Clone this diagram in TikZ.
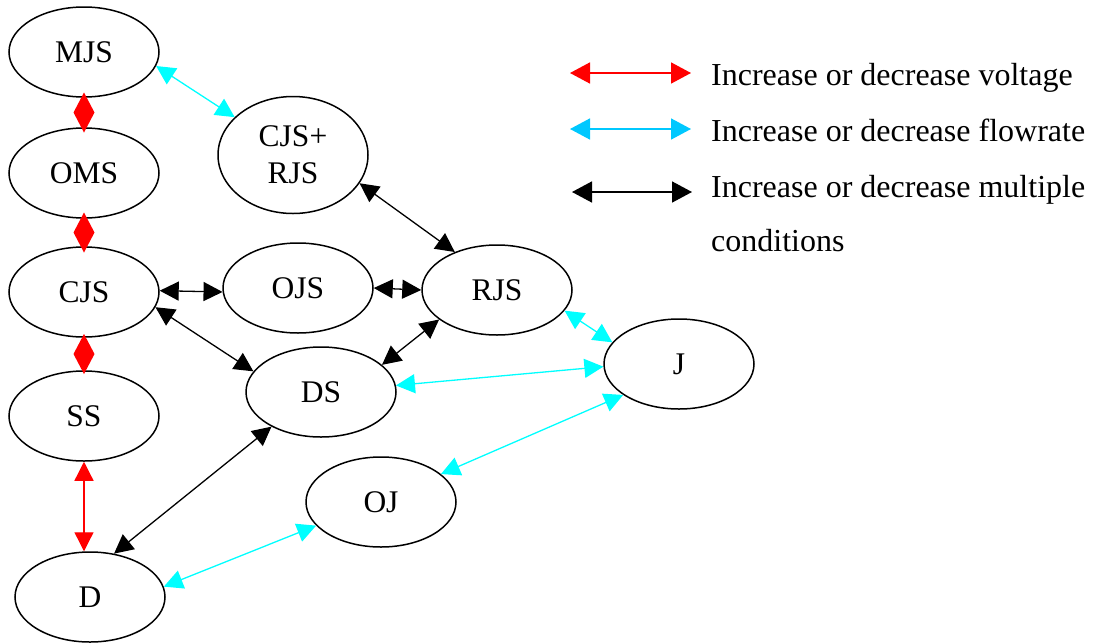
\documentclass[tikz,border=0pt]{standalone}
\usepackage{fontspec}
\setmainfont{Liberation Serif}
\usetikzlibrary{shapes.geometric,arrows.meta,calc}
\definecolor{ecyan}{RGB}{0,255,255}
\definecolor{lcyan}{RGB}{0,200,255}
\definecolor{ered}{RGB}{255,0,0}
\begin{document}
\begin{tikzpicture}[x=1pt,y=-1pt,
  st/.style={draw, ellipse, line width=1.5pt, minimum width=150pt, minimum height=90pt,
    inner sep=0pt, font=\fontsize{31.5}{37}\selectfont, align=center},
  bi/.style={line width=1.3pt, {Triangle[length=19pt,width=19pt]}-{Triangle[length=19pt,width=19pt]}},
  legarrow/.style={line width=1.6pt, {Triangle[length=20pt,width=21pt]}-{Triangle[length=20pt,width=21pt]}},
  legtext/.style={anchor=base west, inner sep=0pt, font=\fontsize{32}{37}\selectfont},
  dia/.style={fill=ered}]
\useasboundingbox (0,0) rectangle (1094,643);

% nodes
\node[st] (MJS) at (84,52) {MJS};
\node[st] (OMS) at (84,173) {OMS};
\node[st] (CJS) at (84,292) {CJS};
\node[st] (SS)  at (84,416) {SS};
\node[st] (D)   at (90,597) {D};
\node[st, minimum height=117pt] (CR) at (293,155) {CJS+\\RJS};
\node[st] (OJS) at (298,288) {OJS};
\node[st] (RJS) at (497,290) {RJS};
\node[st] (DS)  at (321,392) {DS};
\node[st] (J)   at (679,364) {J};
\node[st] (OJ)  at (381,502) {OJ};

% red diamonds (very short voltage edges)
\foreach \a/\b in {MJS/OMS, OMS/CJS, CJS/SS}{
  \fill[dia] ($(\a.south)!0.5!(\b.north)+(0,-20)$) -- ($(\a.south)!0.5!(\b.north)+(10.5,0)$)
    -- ($(\a.south)!0.5!(\b.north)+(0,20)$) -- ($(\a.south)!0.5!(\b.north)+(-10.5,0)$) -- cycle;
}
\draw[bi, ered] (SS.south) -- (D.north -| SS.south);

% cyan edges
\draw[bi, ecyan] (MJS.-11) -- (CR.147);
\draw[bi, ecyan] (RJS.-17) -- (J.162);
\draw[bi, ecyan] (DS.5) -- (J.182);
\draw[bi, ecyan] (J.209) -- (OJ.25);
\draw[bi, ecyan] (OJ.200) -- (D.8);

% black edges
\draw[bi] (CR.-23) -- (RJS.138);
\draw[bi] (CJS.1) -- (OJS.183);
\draw[bi] (OJS.east) -- (RJS.west);
\draw[bi] (CJS.-12) -- (DS.163);
\draw[bi] (DS.24) -- (RJS.207);
\draw[bi] (DS.215) -- (D.61);

% legend
\coordinate (l1a) at (570,73);  \coordinate (l1b) at (691,73);
\coordinate (l2a) at (570,129); \coordinate (l2b) at (691,129);
\coordinate (l3a) at (572,192); \coordinate (l3b) at (692,192);
\draw[legarrow, ered] (l1a) -- (l1b);
\draw[legarrow, lcyan] (l2a) -- (l2b);
\draw[legarrow, black] (l3a) -- (l3b);
\node[legtext] (t1) at (711,85) {Increase or decrease voltage};
\node[legtext] (t2) at (711,141) {Increase or decrease flowrate};
\node[legtext] (t3) at (711,197) {Increase or decrease multiple};
\node[legtext] (t4) at (711,251) {conditions};
\end{tikzpicture}
\end{document}
